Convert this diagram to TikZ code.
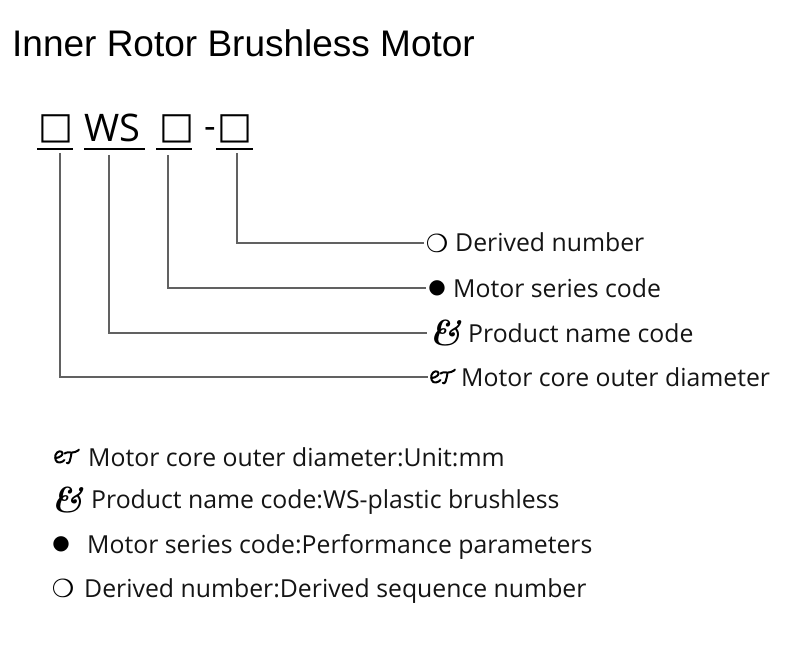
\documentclass[tikz,border=0pt]{standalone}
\usepackage{fontspec}
\setmainfont{Open Sans}
\newfontfamily\titlefont{Liberation Sans}
\newfontfamily\symfont{DejaVu Sans}
\newfontfamily\lmfont{Latin Modern Roman}
\begin{document}
\begin{tikzpicture}[x=1pt,y=-1pt,
  txt/.style={anchor=base west, inner sep=0pt, font=\fontsize{24.8}{28}\selectfont, text=black!92},
  sym/.style={anchor=center, inner sep=0pt, outer sep=2pt, font=\symfont\fontsize{20}{24}\selectfont},
  ring/.style={anchor=center, inner sep=0pt, outer sep=2pt, font=\symfont\bfseries\fontsize{25}{28}\selectfont},
  ampsym/.style={anchor=center, inner sep=0pt, outer sep=2pt, font=\lmfont\bfseries\itshape\fontsize{36}{38}\selectfont},
  etsym/.style={anchor=center, inner sep=0pt, outer sep=2pt, minimum width=26pt, minimum height=14pt},
  orn/.style={draw=black, line width=2pt, line cap=round, line join=round},
  etorn/.pic={
    \begin{scope}[shift={(-13,-7)}]
    \draw[orn] (2,8) .. controls (6,7.5) and (9,5) .. (8.5,3) .. controls (8,0.5) and (3,0.5) .. (1.5,5)
       .. controls (0.5,9) and (2,13) .. (6,12.5) .. controls (8,12.2) and (9.5,11) .. (10.5,10);
    \draw[orn] (10.5,3.5) .. controls (13,1.2) and (17,3.5) .. (21,2) .. controls (23,1.3) and (24.5,0.5) .. (25,-0.5);
    \draw[orn] (17.5,2.9) .. controls (17,6) and (16.5,9) .. (15.5,11.8) .. controls (15,13.5) and (13.5,13.8) .. (12.8,12.8);
    \end{scope}
  },
  code/.style={anchor=center, inner sep=0pt, font=\symfont\fontsize{37}{40}\selectfont},
  conn/.style={draw=black!62, line width=1.4pt},
  uline/.style={draw=black, line width=2pt}]
\useasboundingbox (0,0) rectangle (800,660);
% title
\node[anchor=base west, inner sep=0pt, font=\titlefont\fontsize{37}{40}\selectfont] (title) at (12,57) {Inner Rotor Brushless Motor};
% code row
\node[code] (sq1) at (55.5,128.5) {□};
\node[anchor=base west, inner sep=0pt, font=\fontsize{38}{40}\selectfont] (ws) at (84,142) {WS};
\node[code] (sq2) at (177,128.5) {□};
\node[anchor=base west, inner sep=0pt, font=\fontsize{36}{40}\selectfont] (dash) at (204,139) {-};
\node[code] (sq3) at (235,128.5) {□};
\draw[uline] (37,149) -- (73,149);
\draw[uline] (84,149) -- (145,149);
\draw[uline] (156,149) -- (192,149);
\draw[uline] (216,149) -- (253,149);
\coordinate (v1) at (60,153);
\coordinate (v2) at (109,155);
\coordinate (v3) at (168,155);
\coordinate (v4) at (237,153);
% labels
\node[ring] (s4) at (437,243) {❍};
\node[txt] (t4) at (455,252) {Derived number};
\node[sym] (s3) at (437,288) {●};
\node[txt] (t3) at (453,297) {Motor series code};
\node[ampsym] (s2) at (445,333) {\&};
\node[txt] (t2) at (468,342) {Product name code};
\node[etsym] (s1) at (443,377) {};
\pic at (s1) {etorn};
\node[txt] (t1) at (461,386) {Motor core outer diameter};
\draw[conn] (v4) |- (s4.west);
\draw[conn] (v3) |- (s3.west);
\draw[conn] (v2) |- (s2.west);
\draw[conn] (v1) |- (s1.west);
% legend
\node[etsym] (b1) at (67,457) {};
\pic at (b1) {etorn};
\node[txt] (bt1) at (88,466) {Motor core outer diameter:Unit:mm};
\node[ampsym] (b2) at (67,500) {\&};
\node[txt] (bt2) at (91,508) {Product name code:WS-plastic brushless};
\node[sym] (b3) at (61,544) {●};
\node[txt] (bt3) at (87,553) {Motor series code:Performance parameters};
\node[ring] (b4) at (63,588) {❍};
\node[txt] (bt4) at (84,597) {Derived number:Derived sequence number};
\end{tikzpicture}
\end{document}
